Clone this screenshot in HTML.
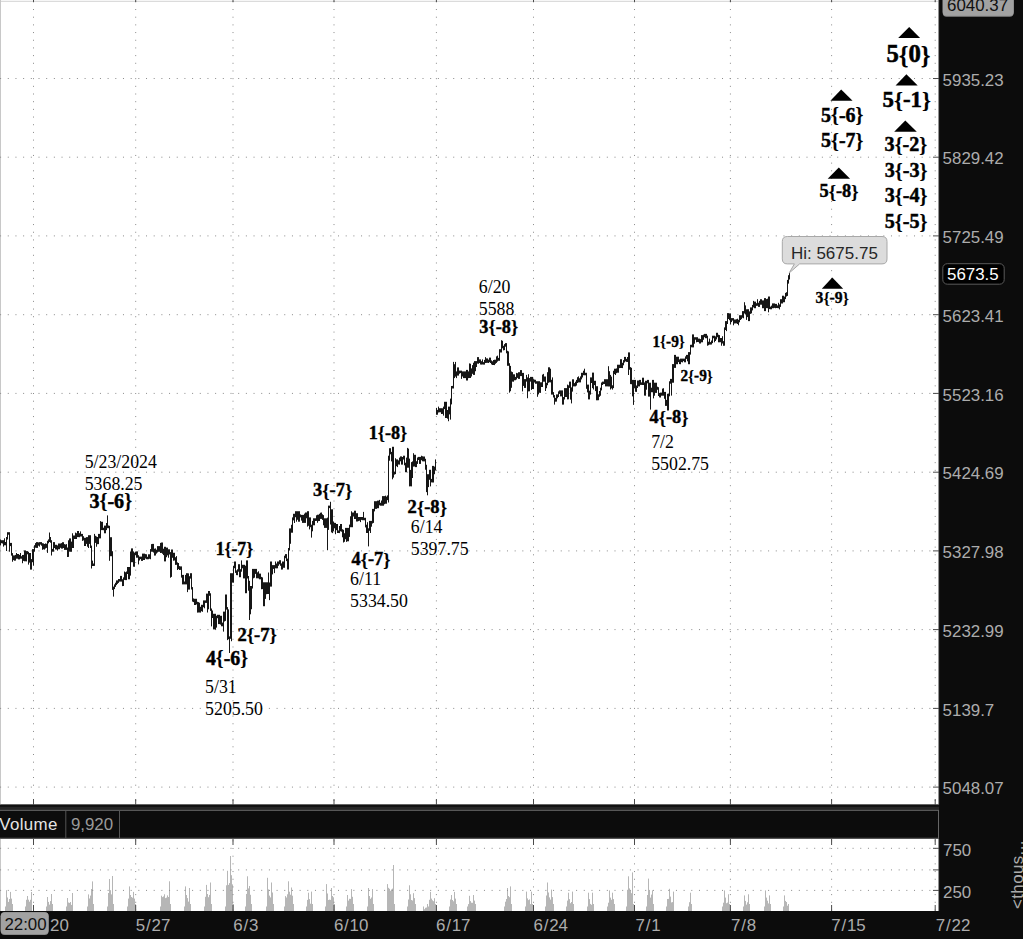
<!DOCTYPE html>
<html><head><meta charset="utf-8"><style>
html,body{margin:0;padding:0;background:#0c0c0c;}
body{width:1023px;height:939px;overflow:hidden;position:relative;}
svg{position:absolute;left:0;top:0;}
.ax{font-family:"Liberation Sans",sans-serif;font-size:16.9px;fill:#acacac;}
.an{font-family:"Liberation Serif",serif;fill:#000;}
.b{font-weight:bold;stroke:#000;stroke-width:0.5px;}
.br{stroke-width:0.15px;}
</style></head><body>
<svg width="1023" height="939" viewBox="0 0 1023 939">

<defs><filter id="bl" x="-5%" y="-5%" width="110%" height="110%"><feGaussianBlur stdDeviation="0.35"/></filter></defs>
<rect x="0" y="0" width="1023" height="939" fill="#0c0c0c"/>
<rect x="0" y="0" width="939" height="804.6" fill="#fff"/>
<rect x="0" y="839" width="939" height="72" fill="#fff"/>
<line x1="0" y1="1.3" x2="939" y2="1.3" stroke="#d2d2d2" stroke-width="1"/>
<line x1="0.5" y1="0" x2="0.5" y2="804.6" stroke="#c8c8c8" stroke-width="1"/>
<line x1="0.5" y1="839" x2="0.5" y2="911" stroke="#c8c8c8" stroke-width="1"/>
<line x1="938.6" y1="0" x2="938.6" y2="804.6" stroke="#888" stroke-width="1"/>
<line x1="938.6" y1="839" x2="938.6" y2="911" stroke="#888" stroke-width="1"/>
<g fill="#b6b6b6"><rect x="5" y="906.5" width="1" height="4.5"/><rect x="6" y="890.2" width="1" height="20.8"/><rect x="7" y="897.5" width="1" height="13.5"/><rect x="8" y="901.9" width="1" height="9.1"/><rect x="9" y="899" width="1" height="12"/><rect x="10" y="891.9" width="1" height="19.1"/><rect x="11" y="898.6" width="1" height="12.4"/><rect x="12" y="904" width="1" height="7"/><rect x="25" y="906.5" width="1" height="4.5"/><rect x="26" y="899.8" width="1" height="11.2"/><rect x="27" y="896" width="1" height="15"/><rect x="28" y="899.7" width="1" height="11.3"/><rect x="29" y="901.7" width="1" height="9.3"/><rect x="30" y="899.8" width="1" height="11.2"/><rect x="31" y="892" width="1" height="19"/><rect x="46" y="906.5" width="1" height="4.5"/><rect x="47" y="897" width="1" height="14"/><rect x="48" y="901.9" width="1" height="9.1"/><rect x="49" y="904.6" width="1" height="6.4"/><rect x="50" y="901.1" width="1" height="9.9"/><rect x="51" y="894" width="1" height="17"/><rect x="52" y="904" width="1" height="7"/><rect x="66" y="906.5" width="1" height="4.5"/><rect x="67" y="898" width="1" height="13"/><rect x="68" y="902.5" width="1" height="8.5"/><rect x="69" y="902.9" width="1" height="8.1"/><rect x="70" y="902" width="1" height="9"/><rect x="71" y="904.9" width="1" height="6.1"/><rect x="72" y="893" width="1" height="18"/><rect x="87" y="906.5" width="1" height="4.5"/><rect x="88" y="894.4" width="1" height="16.6"/><rect x="89" y="898.5" width="1" height="12.5"/><rect x="90" y="895.6" width="1" height="15.4"/><rect x="91" y="889" width="1" height="22"/><rect x="92" y="881.4" width="1" height="29.6"/><rect x="93" y="904" width="1" height="7"/><rect x="107" y="906.5" width="1" height="4.5"/><rect x="108" y="893" width="1" height="18"/><rect x="109" y="879" width="1" height="32"/><rect x="110" y="890.2" width="1" height="20.8"/><rect x="111" y="894.4" width="1" height="16.6"/><rect x="112" y="876" width="1" height="35"/><rect x="113" y="904" width="1" height="7"/><rect x="127" y="906.5" width="1" height="4.5"/><rect x="128" y="898.6" width="1" height="12.4"/><rect x="129" y="886.4" width="1" height="24.6"/><rect x="130" y="895" width="1" height="16"/><rect x="131" y="897" width="1" height="14"/><rect x="132" y="897.7" width="1" height="13.3"/><rect x="133" y="891.9" width="1" height="19.1"/><rect x="134" y="898.6" width="1" height="12.4"/><rect x="135" y="904" width="1" height="7"/><rect x="160" y="906.5" width="1" height="4.5"/><rect x="161" y="895.7" width="1" height="15.3"/><rect x="162" y="897.1" width="1" height="13.9"/><rect x="163" y="896.4" width="1" height="14.6"/><rect x="164" y="894.3" width="1" height="16.7"/><rect x="165" y="898.1" width="1" height="12.9"/><rect x="166" y="897.6" width="1" height="13.4"/><rect x="167" y="895.4" width="1" height="15.6"/><rect x="168" y="897" width="1" height="14"/><rect x="169" y="881.3" width="1" height="29.7"/><rect x="170" y="904" width="1" height="7"/><rect x="184" y="906.5" width="1" height="4.5"/><rect x="185" y="886.4" width="1" height="24.6"/><rect x="186" y="895" width="1" height="16"/><rect x="187" y="898.1" width="1" height="12.9"/><rect x="188" y="901.6" width="1" height="9.4"/><rect x="189" y="888" width="1" height="23"/><rect x="190" y="904" width="1" height="7"/><rect x="204" y="906.5" width="1" height="4.5"/><rect x="205" y="896.8" width="1" height="14.2"/><rect x="206" y="884.9" width="1" height="26.1"/><rect x="207" y="894" width="1" height="17"/><rect x="208" y="897.2" width="1" height="13.8"/><rect x="209" y="894.9" width="1" height="16.1"/><rect x="210" y="882.5" width="1" height="28.5"/><rect x="211" y="904" width="1" height="7"/><rect x="225" y="906.5" width="1" height="4.5"/><rect x="226" y="885.3" width="1" height="25.7"/><rect x="227" y="870.8" width="1" height="40.2"/><rect x="228" y="884.9" width="1" height="26.1"/><rect x="229" y="883.1" width="1" height="27.9"/><rect x="230" y="856" width="1" height="55"/><rect x="231" y="875.2" width="1" height="35.8"/><rect x="232" y="884.4" width="1" height="26.6"/><rect x="233" y="904" width="1" height="7"/><rect x="245" y="906.5" width="1" height="4.5"/><rect x="246" y="893.9" width="1" height="17.1"/><rect x="247" y="876.3" width="1" height="34.7"/><rect x="248" y="888.4" width="1" height="22.6"/><rect x="249" y="886" width="1" height="25"/><rect x="250" y="894.8" width="1" height="16.2"/><rect x="251" y="904" width="1" height="7"/><rect x="266" y="906.5" width="1" height="4.5"/><rect x="267" y="877.8" width="1" height="33.2"/><rect x="268" y="889.4" width="1" height="21.6"/><rect x="269" y="895.6" width="1" height="15.4"/><rect x="270" y="897.4" width="1" height="13.6"/><rect x="271" y="882.5" width="1" height="28.5"/><rect x="272" y="892.5" width="1" height="18.5"/><rect x="273" y="904" width="1" height="7"/><rect x="284" y="906.5" width="1" height="4.5"/><rect x="285" y="896.1" width="1" height="14.9"/><rect x="286" y="897.5" width="1" height="13.5"/><rect x="287" y="894.3" width="1" height="16.7"/><rect x="288" y="881.3" width="1" height="29.7"/><rect x="289" y="891.7" width="1" height="19.3"/><rect x="290" y="894.7" width="1" height="16.3"/><rect x="291" y="887.5" width="1" height="23.5"/><rect x="292" y="895.7" width="1" height="15.3"/><rect x="293" y="904" width="1" height="7"/><rect x="306" y="906.5" width="1" height="4.5"/><rect x="307" y="899.9" width="1" height="11.1"/><rect x="308" y="892.7" width="1" height="18.3"/><rect x="309" y="899.1" width="1" height="11.9"/><rect x="310" y="903.7" width="1" height="7.3"/><rect x="311" y="891.6" width="1" height="19.4"/><rect x="312" y="904" width="1" height="7"/><rect x="325" y="906.5" width="1" height="4.5"/><rect x="326" y="884.1" width="1" height="26.9"/><rect x="327" y="893.5" width="1" height="17.5"/><rect x="328" y="900" width="1" height="11"/><rect x="329" y="899.6" width="1" height="11.4"/><rect x="330" y="899.9" width="1" height="11.1"/><rect x="331" y="888" width="1" height="23"/><rect x="332" y="896" width="1" height="15"/><rect x="333" y="897.3" width="1" height="13.7"/><rect x="334" y="904" width="1" height="7"/><rect x="346" y="906.5" width="1" height="4.5"/><rect x="347" y="895" width="1" height="16"/><rect x="348" y="900.6" width="1" height="10.4"/><rect x="349" y="898.8" width="1" height="12.2"/><rect x="350" y="898.9" width="1" height="12.1"/><rect x="351" y="889.1" width="1" height="21.9"/><rect x="352" y="896.8" width="1" height="14.2"/><rect x="353" y="904" width="1" height="7"/><rect x="367" y="906.5" width="1" height="4.5"/><rect x="368" y="888" width="1" height="23"/><rect x="369" y="896" width="1" height="15"/><rect x="370" y="898.8" width="1" height="12.2"/><rect x="371" y="897.5" width="1" height="13.5"/><rect x="372" y="889.1" width="1" height="21.9"/><rect x="373" y="904" width="1" height="7"/><rect x="387" y="884.1" width="1" height="26.9"/><rect x="388" y="887.8" width="1" height="23.2"/><rect x="389" y="888.8" width="1" height="22.2"/><rect x="390" y="890.8" width="1" height="20.2"/><rect x="391" y="889.5" width="1" height="21.5"/><rect x="392" y="888.6" width="1" height="22.4"/><rect x="393" y="865" width="1" height="46"/><rect x="394" y="904" width="1" height="7"/><rect x="407" y="906.5" width="1" height="4.5"/><rect x="408" y="899.5" width="1" height="11.5"/><rect x="409" y="885.3" width="1" height="25.7"/><rect x="410" y="894.3" width="1" height="16.7"/><rect x="411" y="900" width="1" height="11"/><rect x="412" y="900.5" width="1" height="10.5"/><rect x="413" y="893.2" width="1" height="17.8"/><rect x="414" y="898.1" width="1" height="12.9"/><rect x="415" y="904" width="1" height="7"/><rect x="423" y="906.5" width="1" height="4.5"/><rect x="424" y="909.2" width="1" height="1.8"/><rect x="425" y="907.8" width="1" height="3.2"/><rect x="426" y="907.5" width="1" height="3.5"/><rect x="427" y="904" width="1" height="7"/><rect x="428" y="906.5" width="1" height="4.5"/><rect x="429" y="899.8" width="1" height="11.2"/><rect x="430" y="891.9" width="1" height="19.1"/><rect x="431" y="898.6" width="1" height="12.4"/><rect x="432" y="900.3" width="1" height="10.7"/><rect x="433" y="901.2" width="1" height="9.8"/><rect x="434" y="898.2" width="1" height="12.8"/><rect x="435" y="904" width="1" height="7"/><rect x="449" y="906.5" width="1" height="4.5"/><rect x="450" y="899.5" width="1" height="11.5"/><rect x="451" y="895" width="1" height="16"/><rect x="452" y="900" width="1" height="11"/><rect x="453" y="901.3" width="1" height="9.7"/><rect x="454" y="891.9" width="1" height="19.1"/><rect x="455" y="898.6" width="1" height="12.4"/><rect x="456" y="904" width="1" height="7"/><rect x="467" y="906.5" width="1" height="4.5"/><rect x="468" y="904.1" width="1" height="6.9"/><rect x="469" y="895.8" width="1" height="15.2"/><rect x="470" y="901.1" width="1" height="9.9"/><rect x="471" y="902.7" width="1" height="8.3"/><rect x="472" y="902.8" width="1" height="8.2"/><rect x="473" y="895" width="1" height="16"/><rect x="474" y="900.6" width="1" height="10.4"/><rect x="475" y="904" width="1" height="7"/><rect x="504" y="906.5" width="1" height="4.5"/><rect x="505" y="901.7" width="1" height="9.3"/><rect x="506" y="899" width="1" height="12"/><rect x="507" y="888" width="1" height="23"/><rect x="508" y="896" width="1" height="15"/><rect x="509" y="897.2" width="1" height="13.8"/><rect x="510" y="886.4" width="1" height="24.6"/><rect x="511" y="904" width="1" height="7"/><rect x="525" y="906.5" width="1" height="4.5"/><rect x="526" y="891.6" width="1" height="19.4"/><rect x="527" y="898.4" width="1" height="12.6"/><rect x="528" y="900.1" width="1" height="10.9"/><rect x="529" y="899.4" width="1" height="11.6"/><rect x="530" y="904.1" width="1" height="6.9"/><rect x="531" y="891.6" width="1" height="19.4"/><rect x="532" y="904" width="1" height="7"/><rect x="545" y="906.5" width="1" height="4.5"/><rect x="546" y="895.5" width="1" height="15.5"/><rect x="547" y="882.5" width="1" height="28.5"/><rect x="548" y="892.5" width="1" height="18.5"/><rect x="549" y="897.4" width="1" height="13.6"/><rect x="550" y="899.6" width="1" height="11.4"/><rect x="551" y="889.6" width="1" height="21.4"/><rect x="552" y="897.1" width="1" height="13.9"/><rect x="553" y="904" width="1" height="7"/><rect x="566" y="906.5" width="1" height="4.5"/><rect x="567" y="900.6" width="1" height="10.4"/><rect x="568" y="892.7" width="1" height="18.3"/><rect x="569" y="899.1" width="1" height="11.9"/><rect x="570" y="903.2" width="1" height="7.8"/><rect x="571" y="902" width="1" height="9"/><rect x="572" y="891.6" width="1" height="19.4"/><rect x="573" y="904" width="1" height="7"/><rect x="587" y="906.5" width="1" height="4.5"/><rect x="588" y="892.7" width="1" height="18.3"/><rect x="589" y="899.1" width="1" height="11.9"/><rect x="590" y="903.9" width="1" height="7.1"/><rect x="591" y="904.8" width="1" height="6.2"/><rect x="592" y="892.7" width="1" height="18.3"/><rect x="593" y="904" width="1" height="7"/><rect x="607" y="906.5" width="1" height="4.5"/><rect x="608" y="902.7" width="1" height="8.3"/><rect x="609" y="890.4" width="1" height="20.6"/><rect x="610" y="897.6" width="1" height="13.4"/><rect x="611" y="899.8" width="1" height="11.2"/><rect x="612" y="892.7" width="1" height="18.3"/><rect x="613" y="899.1" width="1" height="11.9"/><rect x="614" y="904" width="1" height="7"/><rect x="626" y="906.5" width="1" height="4.5"/><rect x="627" y="889.8" width="1" height="21.2"/><rect x="628" y="876.3" width="1" height="34.7"/><rect x="629" y="888.4" width="1" height="22.6"/><rect x="630" y="891" width="1" height="20"/><rect x="631" y="893.2" width="1" height="17.8"/><rect x="632" y="872.4" width="1" height="38.6"/><rect x="633" y="904" width="1" height="7"/><rect x="646" y="906.5" width="1" height="4.5"/><rect x="647" y="895" width="1" height="16"/><rect x="648" y="878.6" width="1" height="32.4"/><rect x="649" y="889.9" width="1" height="21.1"/><rect x="650" y="897.6" width="1" height="13.4"/><rect x="651" y="894.6" width="1" height="16.4"/><rect x="652" y="890.4" width="1" height="20.6"/><rect x="653" y="904" width="1" height="7"/><rect x="666" y="906.5" width="1" height="4.5"/><rect x="667" y="899" width="1" height="12"/><rect x="668" y="898.9" width="1" height="12.1"/><rect x="669" y="888.8" width="1" height="22.2"/><rect x="670" y="896.6" width="1" height="14.4"/><rect x="671" y="902.4" width="1" height="8.6"/><rect x="672" y="902.1" width="1" height="8.9"/><rect x="673" y="891.6" width="1" height="19.4"/><rect x="688" y="906.5" width="1" height="4.5"/><rect x="689" y="902.2" width="1" height="8.8"/><rect x="690" y="892.7" width="1" height="18.3"/><rect x="691" y="904" width="1" height="7"/><rect x="722" y="906.5" width="1" height="4.5"/><rect x="723" y="902.7" width="1" height="8.3"/><rect x="724" y="890.4" width="1" height="20.6"/><rect x="725" y="897.6" width="1" height="13.4"/><rect x="726" y="903.2" width="1" height="7.8"/><rect x="727" y="902.6" width="1" height="8.4"/><rect x="728" y="894.3" width="1" height="16.7"/><rect x="729" y="904" width="1" height="7"/><rect x="743" y="906.5" width="1" height="4.5"/><rect x="744" y="895.4" width="1" height="15.6"/><rect x="745" y="900.9" width="1" height="10.1"/><rect x="746" y="904.6" width="1" height="6.4"/><rect x="747" y="902.3" width="1" height="8.7"/><rect x="748" y="894.3" width="1" height="16.7"/><rect x="749" y="904" width="1" height="7"/><rect x="764" y="906.5" width="1" height="4.5"/><rect x="765" y="890.4" width="1" height="20.6"/><rect x="766" y="897.6" width="1" height="13.4"/><rect x="767" y="900.7" width="1" height="10.3"/><rect x="768" y="903.4" width="1" height="7.6"/><rect x="769" y="895.4" width="1" height="15.6"/><rect x="770" y="904" width="1" height="7"/><rect x="783" y="906.5" width="1" height="4.5"/><rect x="784" y="895.4" width="1" height="15.6"/><rect x="785" y="900.9" width="1" height="10.1"/><rect x="786" y="902" width="1" height="9"/><rect x="787" y="905.7" width="1" height="5.3"/><rect x="788" y="904" width="1" height="7"/></g>
<g stroke="#8a8a8a" stroke-width="1" stroke-dasharray="1 6.68" stroke-dashoffset="-7.78"><line x1="0" y1="78.5" x2="932" y2="78.5"/><line x1="0" y1="157.2" x2="932" y2="157.2"/><line x1="0" y1="235.9" x2="932" y2="235.9"/><line x1="0" y1="314.7" x2="932" y2="314.7"/><line x1="0" y1="393.4" x2="932" y2="393.4"/><line x1="0" y1="472.2" x2="932" y2="472.2"/><line x1="0" y1="550.9" x2="932" y2="550.9"/><line x1="0" y1="629.6" x2="932" y2="629.6"/><line x1="0" y1="708.4" x2="932" y2="708.4"/><line x1="0" y1="787.1" x2="932" y2="787.1"/><line x1="0" y1="848.3" x2="932" y2="848.3"/><line x1="0" y1="869.9" x2="932" y2="869.9"/><line x1="0" y1="890.4" x2="932" y2="890.4"/></g>
<g stroke="#8a8a8a" stroke-width="1" stroke-dasharray="1 6.68" stroke-dashoffset="-1.35"><line x1="33.5" y1="0" x2="33.5" y2="804.6"/><line x1="33.5" y1="839" x2="33.5" y2="911"/><line x1="135.7" y1="0" x2="135.7" y2="804.6"/><line x1="135.7" y1="839" x2="135.7" y2="911"/><line x1="233" y1="0" x2="233" y2="804.6"/><line x1="233" y1="839" x2="233" y2="911"/><line x1="334" y1="0" x2="334" y2="804.6"/><line x1="334" y1="839" x2="334" y2="911"/><line x1="436.4" y1="0" x2="436.4" y2="804.6"/><line x1="436.4" y1="839" x2="436.4" y2="911"/><line x1="533.5" y1="0" x2="533.5" y2="804.6"/><line x1="533.5" y1="839" x2="533.5" y2="911"/><line x1="634.5" y1="0" x2="634.5" y2="804.6"/><line x1="634.5" y1="839" x2="634.5" y2="911"/><line x1="730.4" y1="0" x2="730.4" y2="804.6"/><line x1="730.4" y1="839" x2="730.4" y2="911"/><line x1="831.6" y1="0" x2="831.6" y2="804.6"/><line x1="831.6" y1="839" x2="831.6" y2="911"/><line x1="935.2" y1="0" x2="935.2" y2="804.6"/><line x1="935.2" y1="839" x2="935.2" y2="911"/></g>
<g stroke="#4a4a4a" stroke-width="1"><line x1="33.5" y1="0" x2="33.5" y2="2"/><line x1="33.5" y1="799" x2="33.5" y2="804.6"/><line x1="33.5" y1="839" x2="33.5" y2="845"/><line x1="33.5" y1="905" x2="33.5" y2="911"/><line x1="135.7" y1="0" x2="135.7" y2="2"/><line x1="135.7" y1="799" x2="135.7" y2="804.6"/><line x1="135.7" y1="839" x2="135.7" y2="845"/><line x1="135.7" y1="905" x2="135.7" y2="911"/><line x1="233" y1="0" x2="233" y2="2"/><line x1="233" y1="799" x2="233" y2="804.6"/><line x1="233" y1="839" x2="233" y2="845"/><line x1="233" y1="905" x2="233" y2="911"/><line x1="334" y1="0" x2="334" y2="2"/><line x1="334" y1="799" x2="334" y2="804.6"/><line x1="334" y1="839" x2="334" y2="845"/><line x1="334" y1="905" x2="334" y2="911"/><line x1="436.4" y1="0" x2="436.4" y2="2"/><line x1="436.4" y1="799" x2="436.4" y2="804.6"/><line x1="436.4" y1="839" x2="436.4" y2="845"/><line x1="436.4" y1="905" x2="436.4" y2="911"/><line x1="533.5" y1="0" x2="533.5" y2="2"/><line x1="533.5" y1="799" x2="533.5" y2="804.6"/><line x1="533.5" y1="839" x2="533.5" y2="845"/><line x1="533.5" y1="905" x2="533.5" y2="911"/><line x1="634.5" y1="0" x2="634.5" y2="2"/><line x1="634.5" y1="799" x2="634.5" y2="804.6"/><line x1="634.5" y1="839" x2="634.5" y2="845"/><line x1="634.5" y1="905" x2="634.5" y2="911"/><line x1="730.4" y1="0" x2="730.4" y2="2"/><line x1="730.4" y1="799" x2="730.4" y2="804.6"/><line x1="730.4" y1="839" x2="730.4" y2="845"/><line x1="730.4" y1="905" x2="730.4" y2="911"/><line x1="831.6" y1="0" x2="831.6" y2="2"/><line x1="831.6" y1="799" x2="831.6" y2="804.6"/><line x1="831.6" y1="839" x2="831.6" y2="845"/><line x1="831.6" y1="905" x2="831.6" y2="911"/><line x1="935.2" y1="0" x2="935.2" y2="2"/><line x1="935.2" y1="799" x2="935.2" y2="804.6"/><line x1="935.2" y1="839" x2="935.2" y2="845"/><line x1="935.2" y1="905" x2="935.2" y2="911"/><line x1="933" y1="78.5" x2="939" y2="78.5"/><line x1="933" y1="157.2" x2="939" y2="157.2"/><line x1="933" y1="235.9" x2="939" y2="235.9"/><line x1="933" y1="314.7" x2="939" y2="314.7"/><line x1="933" y1="393.4" x2="939" y2="393.4"/><line x1="933" y1="472.2" x2="939" y2="472.2"/><line x1="933" y1="550.9" x2="939" y2="550.9"/><line x1="933" y1="629.6" x2="939" y2="629.6"/><line x1="933" y1="708.4" x2="939" y2="708.4"/><line x1="933" y1="787.1" x2="939" y2="787.1"/><line x1="933" y1="848.3" x2="939" y2="848.3"/><line x1="933" y1="869.9" x2="939" y2="869.9"/><line x1="933" y1="890.4" x2="939" y2="890.4"/></g>
<g fill="#161616" filter="url(#bl)"><rect x="0" y="539.5" width="1" height="5.9"/><rect x="1" y="540.2" width="1" height="3"/><rect x="2" y="540.2" width="1" height="3.3"/><rect x="3" y="540.2" width="1" height="6.4"/><rect x="4" y="538.3" width="1" height="7"/><rect x="5" y="542" width="1" height="3.3"/><rect x="6" y="537" width="1" height="14"/><rect x="7" y="532.2" width="1" height="7.3"/><rect x="8" y="532.2" width="1" height="2.5"/><rect x="9" y="532.2" width="1" height="19.5"/><rect x="10" y="542.9" width="1" height="3.2"/><rect x="11" y="542.9" width="1" height="12.7"/><rect x="12" y="553.1" width="1" height="8.6"/><rect x="13" y="555.4" width="1" height="4.7"/><rect x="14" y="555.4" width="1" height="5.3"/><rect x="15" y="554.9" width="1" height="5.7"/><rect x="16" y="553" width="1" height="5.7"/><rect x="17" y="554" width="1" height="4.7"/><rect x="18" y="554" width="1" height="5.4"/><rect x="19" y="554.9" width="1" height="4.5"/><rect x="20" y="553" width="1" height="5.7"/><rect x="21" y="556.2" width="1" height="2.5"/><rect x="22" y="555" width="1" height="8.2"/><rect x="23" y="554.9" width="1" height="6"/><rect x="24" y="550.4" width="1" height="10.9"/><rect x="25" y="550.4" width="1" height="10.9"/><rect x="26" y="551.1" width="1" height="10.3"/><rect x="27" y="551.1" width="1" height="3.2"/><rect x="28" y="551.8" width="1" height="12.8"/><rect x="29" y="553" width="1" height="9.6"/><rect x="30" y="553" width="1" height="16.6"/><rect x="31" y="559.1" width="1" height="10.5"/><rect x="32" y="549.1" width="1" height="13.1"/><rect x="33" y="549.1" width="1" height="16.6"/><rect x="34" y="545.2" width="1" height="6.5"/><rect x="35" y="543.1" width="1" height="4.6"/><rect x="36" y="542.1" width="1" height="5.8"/><rect x="37" y="542.1" width="1" height="5.8"/><rect x="38" y="542.4" width="1" height="3.3"/><rect x="39" y="542.1" width="1" height="4.5"/><rect x="40" y="542.1" width="1" height="2.5"/><rect x="41" y="542.1" width="1" height="3.6"/><rect x="42" y="543.2" width="1" height="6.6"/><rect x="43" y="543.4" width="1" height="5.9"/><rect x="44" y="544" width="1" height="5.6"/><rect x="45" y="543.4" width="1" height="5.1"/><rect x="46" y="543.8" width="1" height="4.1"/><rect x="47" y="540.8" width="1" height="12.1"/><rect x="48" y="539.4" width="1" height="3.9"/><rect x="49" y="532.5" width="1" height="9.5"/><rect x="50" y="537" width="1" height="5.7"/><rect x="51" y="540.2" width="1" height="15.3"/><rect x="52" y="548.9" width="1" height="2.8"/><rect x="53" y="542.1" width="1" height="9.6"/><rect x="54" y="542.1" width="1" height="5.9"/><rect x="55" y="544.8" width="1" height="4.7"/><rect x="56" y="544.8" width="1" height="4.7"/><rect x="57" y="545.4" width="1" height="5.2"/><rect x="58" y="543.5" width="1" height="5.7"/><rect x="59" y="543.5" width="1" height="5.7"/><rect x="60" y="543.5" width="1" height="4.3"/><rect x="61" y="543.1" width="1" height="5.5"/><rect x="62" y="542.2" width="1" height="6.4"/><rect x="63" y="542.2" width="1" height="5.8"/><rect x="64" y="544.1" width="1" height="5.8"/><rect x="65" y="544.5" width="1" height="5.4"/><rect x="66" y="544.1" width="1" height="5.8"/><rect x="67" y="547.5" width="1" height="9.5"/><rect x="68" y="540.3" width="1" height="16.6"/><rect x="69" y="538.4" width="1" height="13.2"/><rect x="70" y="538.4" width="1" height="13.4"/><rect x="71" y="541.6" width="1" height="10.2"/><rect x="72" y="533.3" width="1" height="14.7"/><rect x="73" y="535.5" width="1" height="12.5"/><rect x="74" y="535.5" width="1" height="3.5"/><rect x="75" y="532.6" width="1" height="6.4"/><rect x="76" y="533.2" width="1" height="5.8"/><rect x="77" y="531" width="1" height="6.1"/><rect x="78" y="531" width="1" height="6.1"/><rect x="79" y="533.2" width="1" height="4"/><rect x="80" y="531.4" width="1" height="5.1"/><rect x="81" y="533.9" width="1" height="2.6"/><rect x="82" y="533.9" width="1" height="7"/><rect x="83" y="536.2" width="1" height="4.2"/><rect x="84" y="537.8" width="1" height="8.2"/><rect x="85" y="537.8" width="1" height="8.2"/><rect x="86" y="537.1" width="1" height="6.8"/><rect x="87" y="537.1" width="1" height="9.6"/><rect x="88" y="535.2" width="1" height="12.8"/><rect x="89" y="535.2" width="1" height="8.7"/><rect x="90" y="535.2" width="1" height="12.8"/><rect x="91" y="545.6" width="1" height="22.9"/><rect x="92" y="560.6" width="1" height="5.4"/><rect x="93" y="563.5" width="1" height="2.5"/><rect x="94" y="533.9" width="1" height="32"/><rect x="95" y="535.8" width="1" height="7.1"/><rect x="96" y="536.5" width="1" height="10.2"/><rect x="97" y="537" width="1" height="7.2"/><rect x="98" y="533.9" width="1" height="10.2"/><rect x="99" y="533.9" width="1" height="4.5"/><rect x="100" y="521.1" width="1" height="17.3"/><rect x="101" y="521.8" width="1" height="8.3"/><rect x="102" y="521.8" width="1" height="8.3"/><rect x="103" y="527.7" width="1" height="2.5"/><rect x="104" y="525.6" width="1" height="7.7"/><rect x="105" y="525.6" width="1" height="7.7"/><rect x="106" y="523" width="1" height="7.1"/><rect x="107" y="515.4" width="1" height="12.8"/><rect x="108" y="525.5" width="1" height="2.7"/><rect x="109" y="525.8" width="1" height="35"/><rect x="110" y="537.2" width="1" height="19"/><rect x="111" y="537.2" width="1" height="19"/><rect x="112" y="551.2" width="1" height="38.7"/><rect x="113" y="586.6" width="1" height="10"/><rect x="114" y="584.4" width="1" height="4.7"/><rect x="115" y="582.7" width="1" height="4.2"/><rect x="116" y="580.4" width="1" height="4.7"/><rect x="117" y="580.4" width="1" height="3.5"/><rect x="118" y="579" width="1" height="3.9"/><rect x="119" y="579" width="1" height="2.6"/><rect x="120" y="575.9" width="1" height="5.7"/><rect x="121" y="575.9" width="1" height="5.7"/><rect x="122" y="579.2" width="1" height="6.9"/><rect x="123" y="577.4" width="1" height="8.6"/><rect x="124" y="571.5" width="1" height="8.4"/><rect x="125" y="572.2" width="1" height="7.9"/><rect x="126" y="571.5" width="1" height="8.6"/><rect x="127" y="567" width="1" height="7"/><rect x="128" y="567" width="1" height="12.3"/><rect x="129" y="567" width="1" height="12.3"/><rect x="130" y="551.5" width="1" height="24.1"/><rect x="131" y="548.4" width="1" height="13.8"/><rect x="132" y="548.4" width="1" height="13.8"/><rect x="133" y="551.4" width="1" height="15.3"/><rect x="134" y="552.6" width="1" height="14.2"/><rect x="135" y="551.6" width="1" height="3.5"/><rect x="136" y="551.4" width="1" height="6.3"/><rect x="137" y="551.4" width="1" height="6.3"/><rect x="138" y="555.2" width="1" height="9.2"/><rect x="139" y="556.6" width="1" height="3.9"/><rect x="140" y="556.6" width="1" height="2.5"/><rect x="141" y="556.6" width="1" height="4.3"/><rect x="142" y="553.6" width="1" height="7.3"/><rect x="143" y="553.6" width="1" height="6.4"/><rect x="144" y="553.6" width="1" height="6.4"/><rect x="145" y="554.1" width="1" height="4.4"/><rect x="146" y="554.3" width="1" height="4.9"/><rect x="147" y="556.8" width="1" height="2.5"/><rect x="148" y="554.3" width="1" height="4.9"/><rect x="149" y="554.3" width="1" height="4.5"/><rect x="150" y="549.1" width="1" height="10.1"/><rect x="151" y="544.1" width="1" height="7.6"/><rect x="152" y="543.9" width="1" height="7.9"/><rect x="153" y="543.9" width="1" height="8.6"/><rect x="154" y="548.7" width="1" height="6.9"/><rect x="155" y="548.4" width="1" height="7.1"/><rect x="156" y="549.7" width="1" height="3.9"/><rect x="157" y="546.1" width="1" height="6.4"/><rect x="158" y="546.1" width="1" height="5.7"/><rect x="159" y="546.1" width="1" height="5.7"/><rect x="160" y="542.9" width="1" height="10.1"/><rect x="161" y="542.5" width="1" height="10.4"/><rect x="162" y="542.5" width="1" height="11.3"/><rect x="163" y="548.7" width="1" height="6.4"/><rect x="164" y="546.8" width="1" height="14.6"/><rect x="165" y="546.8" width="1" height="14.6"/><rect x="166" y="547.6" width="1" height="9.6"/><rect x="167" y="547.6" width="1" height="7.8"/><rect x="168" y="549.3" width="1" height="8.4"/><rect x="169" y="549.3" width="1" height="5.2"/><rect x="170" y="552.1" width="1" height="25.6"/><rect x="171" y="549.5" width="1" height="27.4"/><rect x="172" y="549.5" width="1" height="8.3"/><rect x="173" y="552.8" width="1" height="7.9"/><rect x="174" y="552.8" width="1" height="7.7"/><rect x="175" y="557.2" width="1" height="7.7"/><rect x="176" y="556.1" width="1" height="8.7"/><rect x="177" y="562.4" width="1" height="7.6"/><rect x="178" y="563" width="1" height="6.1"/><rect x="179" y="566.1" width="1" height="3.9"/><rect x="180" y="566.4" width="1" height="3.5"/><rect x="181" y="566.4" width="1" height="11.2"/><rect x="182" y="574.9" width="1" height="9.5"/><rect x="183" y="574.9" width="1" height="9.5"/><rect x="184" y="581.5" width="1" height="2.9"/><rect x="185" y="574.9" width="1" height="9.5"/><rect x="186" y="573.2" width="1" height="11.2"/><rect x="187" y="573.2" width="1" height="18.9"/><rect x="188" y="573.4" width="1" height="16.2"/><rect x="189" y="576.2" width="1" height="13.4"/><rect x="190" y="573.2" width="1" height="5.4"/><rect x="191" y="573.2" width="1" height="16.3"/><rect x="192" y="587.1" width="1" height="14.5"/><rect x="193" y="598.4" width="1" height="3.7"/><rect x="194" y="598.8" width="1" height="6.2"/><rect x="195" y="598.8" width="1" height="6.2"/><rect x="196" y="598.8" width="1" height="5.6"/><rect x="197" y="601.8" width="1" height="10.8"/><rect x="198" y="602.1" width="1" height="10.4"/><rect x="199" y="602.7" width="1" height="9.8"/><rect x="200" y="606.8" width="1" height="5.8"/><rect x="201" y="604.8" width="1" height="6.4"/><rect x="202" y="604.8" width="1" height="7"/><rect x="203" y="600.4" width="1" height="6.8"/><rect x="204" y="600.4" width="1" height="7.9"/><rect x="205" y="600.4" width="1" height="2.5"/><rect x="206" y="593.6" width="1" height="9.3"/><rect x="207" y="593.6" width="1" height="18.9"/><rect x="208" y="591" width="1" height="18.3"/><rect x="209" y="591" width="1" height="4.8"/><rect x="210" y="593.3" width="1" height="17.6"/><rect x="211" y="608.5" width="1" height="17.9"/><rect x="212" y="610.5" width="1" height="7.5"/><rect x="213" y="613.8" width="1" height="15.6"/><rect x="214" y="613.8" width="1" height="15.6"/><rect x="215" y="613.8" width="1" height="15.8"/><rect x="216" y="615.7" width="1" height="11.9"/><rect x="217" y="614.8" width="1" height="3.4"/><rect x="218" y="614.8" width="1" height="9.3"/><rect x="219" y="614.8" width="1" height="9.3"/><rect x="220" y="615.8" width="1" height="8.8"/><rect x="221" y="615.8" width="1" height="10.5"/><rect x="222" y="622.6" width="1" height="3.7"/><rect x="223" y="611.6" width="1" height="20"/><rect x="224" y="611.6" width="1" height="9.9"/><rect x="225" y="594.5" width="1" height="26.4"/><rect x="226" y="594.5" width="1" height="15.1"/><rect x="227" y="607.1" width="1" height="33"/><rect x="228" y="609.4" width="1" height="29.8"/><rect x="229" y="636.4" width="1" height="16.6"/><rect x="230" y="573.2" width="1" height="65.6"/><rect x="231" y="573.2" width="1" height="68"/><rect x="232" y="573.2" width="1" height="9.4"/><rect x="233" y="565.8" width="1" height="16.9"/><rect x="234" y="561.5" width="1" height="6.7"/><rect x="235" y="561.5" width="1" height="11.4"/><rect x="236" y="570.4" width="1" height="4.7"/><rect x="237" y="569.3" width="1" height="5.9"/><rect x="238" y="564.2" width="1" height="7.5"/><rect x="239" y="564.2" width="1" height="13"/><rect x="240" y="569.2" width="1" height="8"/><rect x="241" y="560.4" width="1" height="11.3"/><rect x="242" y="564.8" width="1" height="3.5"/><rect x="243" y="564.8" width="1" height="13.6"/><rect x="244" y="564.8" width="1" height="13.6"/><rect x="245" y="565.7" width="1" height="27.5"/><rect x="246" y="560.4" width="1" height="32.8"/><rect x="247" y="560.4" width="1" height="18.1"/><rect x="248" y="576" width="1" height="14.7"/><rect x="249" y="580.8" width="1" height="39.2"/><rect x="250" y="586" width="1" height="28.3"/><rect x="251" y="586" width="1" height="23.2"/><rect x="252" y="568.9" width="1" height="19.6"/><rect x="253" y="568.9" width="1" height="9.4"/><rect x="254" y="568.9" width="1" height="8.8"/><rect x="255" y="568.9" width="1" height="5"/><rect x="256" y="568.9" width="1" height="9.4"/><rect x="257" y="572.3" width="1" height="6"/><rect x="258" y="571.3" width="1" height="7.1"/><rect x="259" y="573.6" width="1" height="5.7"/><rect x="260" y="573.6" width="1" height="5.7"/><rect x="261" y="576.9" width="1" height="12.3"/><rect x="262" y="577.4" width="1" height="11.7"/><rect x="263" y="582.3" width="1" height="23.9"/><rect x="264" y="582.3" width="1" height="23.9"/><rect x="265" y="582.3" width="1" height="16.6"/><rect x="266" y="582.3" width="1" height="11.9"/><rect x="267" y="582.3" width="1" height="11.7"/><rect x="268" y="572.5" width="1" height="21.5"/><rect x="269" y="582.5" width="1" height="17.6"/><rect x="270" y="561.5" width="1" height="25.1"/><rect x="271" y="561.5" width="1" height="25.1"/><rect x="272" y="565.1" width="1" height="9.3"/><rect x="273" y="565.1" width="1" height="3.8"/><rect x="274" y="565.1" width="1" height="8"/><rect x="275" y="561.5" width="1" height="6.8"/><rect x="276" y="563.5" width="1" height="4.9"/><rect x="277" y="561.5" width="1" height="6.8"/><rect x="278" y="561.5" width="1" height="4.3"/><rect x="279" y="560.2" width="1" height="4.1"/><rect x="280" y="560.2" width="1" height="5.6"/><rect x="281" y="563.4" width="1" height="6.2"/><rect x="282" y="561.5" width="1" height="8"/><rect x="283" y="561.5" width="1" height="6.3"/><rect x="284" y="555.7" width="1" height="12.1"/><rect x="285" y="554.1" width="1" height="4.1"/><rect x="286" y="554.1" width="1" height="7"/><rect x="287" y="558.6" width="1" height="10.9"/><rect x="288" y="548" width="1" height="21.5"/><rect x="289" y="528.4" width="1" height="22.1"/><rect x="290" y="528.4" width="1" height="15.4"/><rect x="291" y="524.8" width="1" height="7.9"/><rect x="292" y="517.4" width="1" height="15.3"/><rect x="293" y="513.8" width="1" height="6.6"/><rect x="294" y="513.8" width="1" height="9.2"/><rect x="295" y="511.2" width="1" height="6"/><rect x="296" y="511.2" width="1" height="10.5"/><rect x="297" y="511.2" width="1" height="8.6"/><rect x="298" y="511.2" width="1" height="10.5"/><rect x="299" y="511.2" width="1" height="10.5"/><rect x="300" y="514.4" width="1" height="3"/><rect x="301" y="514.9" width="1" height="5.7"/><rect x="302" y="514.9" width="1" height="8"/><rect x="303" y="514.9" width="1" height="8"/><rect x="304" y="513.6" width="1" height="9.3"/><rect x="305" y="512.5" width="1" height="10.4"/><rect x="306" y="512.5" width="1" height="5.8"/><rect x="307" y="511.2" width="1" height="15.4"/><rect x="308" y="511.2" width="1" height="14.6"/><rect x="309" y="517.4" width="1" height="12"/><rect x="310" y="517.4" width="1" height="9.8"/><rect x="311" y="524.7" width="1" height="12.9"/><rect x="312" y="520.9" width="1" height="10.4"/><rect x="313" y="518.3" width="1" height="7"/><rect x="314" y="518.3" width="1" height="7"/><rect x="315" y="518.3" width="1" height="2.7"/><rect x="316" y="515.3" width="1" height="5.6"/><rect x="317" y="514.7" width="1" height="8.1"/><rect x="318" y="514.7" width="1" height="6.4"/><rect x="319" y="513.8" width="1" height="7.2"/><rect x="320" y="512.7" width="1" height="6.2"/><rect x="321" y="512.5" width="1" height="6.4"/><rect x="322" y="514.3" width="1" height="5.6"/><rect x="323" y="515.1" width="1" height="10.2"/><rect x="324" y="518.3" width="1" height="9.6"/><rect x="325" y="518.3" width="1" height="9.6"/><rect x="326" y="518.3" width="1" height="9.6"/><rect x="327" y="517.6" width="1" height="32.6"/><rect x="328" y="505.6" width="1" height="24.3"/><rect x="329" y="505.6" width="1" height="2.5"/><rect x="330" y="501.8" width="1" height="22.7"/><rect x="331" y="509.3" width="1" height="23.1"/><rect x="332" y="509.3" width="1" height="23.8"/><rect x="333" y="521.5" width="1" height="9.7"/><rect x="334" y="522.8" width="1" height="5.5"/><rect x="335" y="522.9" width="1" height="11.3"/><rect x="336" y="524" width="1" height="6.2"/><rect x="337" y="524" width="1" height="9"/><rect x="338" y="530.4" width="1" height="2.6"/><rect x="339" y="526" width="1" height="7.1"/><rect x="340" y="524" width="1" height="7.3"/><rect x="341" y="524" width="1" height="7.7"/><rect x="342" y="529.2" width="1" height="8.1"/><rect x="343" y="529.8" width="1" height="12.7"/><rect x="344" y="533.2" width="1" height="8.6"/><rect x="345" y="527.9" width="1" height="11.3"/><rect x="346" y="527.9" width="1" height="14"/><rect x="347" y="527.9" width="1" height="13.4"/><rect x="348" y="527.9" width="1" height="13.4"/><rect x="349" y="524.6" width="1" height="12.3"/><rect x="350" y="516.3" width="1" height="10.9"/><rect x="351" y="511.3" width="1" height="15.9"/><rect x="352" y="512.5" width="1" height="14.7"/><rect x="353" y="512.5" width="1" height="4"/><rect x="354" y="510.7" width="1" height="8.3"/><rect x="355" y="510.7" width="1" height="8.3"/><rect x="356" y="513.2" width="1" height="8.3"/><rect x="357" y="513.2" width="1" height="8.3"/><rect x="358" y="517" width="1" height="4.1"/><rect x="359" y="517" width="1" height="3.7"/><rect x="360" y="517" width="1" height="5.1"/><rect x="361" y="517" width="1" height="2.9"/><rect x="362" y="517" width="1" height="3.2"/><rect x="363" y="511.9" width="1" height="8.3"/><rect x="364" y="517.8" width="1" height="2.5"/><rect x="365" y="517.8" width="1" height="9.6"/><rect x="366" y="524.7" width="1" height="8.3"/><rect x="367" y="522.2" width="1" height="10.8"/><rect x="368" y="528.3" width="1" height="18.1"/><rect x="369" y="520.9" width="1" height="9.9"/><rect x="370" y="520.9" width="1" height="12.1"/><rect x="371" y="520.9" width="1" height="5.8"/><rect x="372" y="508.9" width="1" height="14.6"/><rect x="373" y="508.9" width="1" height="14"/><rect x="374" y="501.2" width="1" height="10.2"/><rect x="375" y="501.2" width="1" height="7.7"/><rect x="376" y="501.2" width="1" height="7.7"/><rect x="377" y="500.6" width="1" height="7.6"/><rect x="378" y="500.6" width="1" height="7.6"/><rect x="379" y="499.9" width="1" height="5.4"/><rect x="380" y="502.8" width="1" height="2.9"/><rect x="381" y="500.5" width="1" height="5.2"/><rect x="382" y="496.1" width="1" height="9.6"/><rect x="383" y="496.1" width="1" height="9.6"/><rect x="384" y="496.1" width="1" height="8.1"/><rect x="385" y="495.6" width="1" height="8.1"/><rect x="386" y="496.6" width="1" height="7.1"/><rect x="387" y="495.4" width="1" height="4.7"/><rect x="388" y="455.7" width="1" height="46.8"/><rect x="389" y="448.2" width="1" height="12.5"/><rect x="390" y="448.2" width="1" height="6.1"/><rect x="391" y="451.9" width="1" height="9.5"/><rect x="392" y="446.8" width="1" height="32.5"/><rect x="393" y="446.8" width="1" height="30.8"/><rect x="394" y="471.6" width="1" height="3"/><rect x="395" y="458.2" width="1" height="15.9"/><rect x="396" y="459.4" width="1" height="6.8"/><rect x="397" y="459.4" width="1" height="7.7"/><rect x="398" y="460.4" width="1" height="4.1"/><rect x="399" y="457.6" width="1" height="7"/><rect x="400" y="456.4" width="1" height="4.9"/><rect x="401" y="456.4" width="1" height="8.2"/><rect x="402" y="457" width="1" height="7.6"/><rect x="403" y="455.7" width="1" height="3.8"/><rect x="404" y="455.7" width="1" height="9.6"/><rect x="405" y="462.7" width="1" height="9.5"/><rect x="406" y="457.6" width="1" height="14.7"/><rect x="407" y="447.9" width="1" height="19.8"/><rect x="408" y="448.6" width="1" height="19.1"/><rect x="409" y="458.6" width="1" height="27.8"/><rect x="410" y="469.9" width="1" height="16.4"/><rect x="411" y="462.1" width="1" height="24.3"/><rect x="412" y="461.4" width="1" height="16.6"/><rect x="413" y="453.2" width="1" height="13.4"/><rect x="414" y="454.8" width="1" height="11.7"/><rect x="415" y="454.8" width="1" height="12.3"/><rect x="416" y="461.2" width="1" height="5.9"/><rect x="417" y="457.5" width="1" height="6.4"/><rect x="418" y="456.9" width="1" height="3.1"/><rect x="419" y="456.9" width="1" height="7"/><rect x="420" y="456.9" width="1" height="7"/><rect x="421" y="455.7" width="1" height="4.5"/><rect x="422" y="456.2" width="1" height="5.1"/><rect x="423" y="456.5" width="1" height="4.9"/><rect x="424" y="456.5" width="1" height="4.9"/><rect x="425" y="458.8" width="1" height="10.9"/><rect x="426" y="464.8" width="1" height="27.3"/><rect x="427" y="474.2" width="1" height="21.1"/><rect x="428" y="474.2" width="1" height="12.9"/><rect x="429" y="469.8" width="1" height="10"/><rect x="430" y="469.8" width="1" height="16.6"/><rect x="431" y="478.9" width="1" height="3.5"/><rect x="432" y="465.9" width="1" height="16.6"/><rect x="433" y="465.9" width="1" height="16.6"/><rect x="434" y="466.6" width="1" height="7.6"/><rect x="435" y="459.4" width="1" height="11.1"/><rect x="436" y="407.9" width="1" height="6.9"/><rect x="437" y="409.9" width="1" height="4.8"/><rect x="438" y="406.6" width="1" height="5.9"/><rect x="439" y="408.2" width="1" height="4.1"/><rect x="440" y="408.2" width="1" height="4.1"/><rect x="441" y="408.2" width="1" height="5.8"/><rect x="442" y="408.3" width="1" height="5.6"/><rect x="443" y="406.6" width="1" height="9"/><rect x="444" y="401.8" width="1" height="7.3"/><rect x="445" y="401.8" width="1" height="16.2"/><rect x="446" y="401.8" width="1" height="16.2"/><rect x="447" y="410" width="1" height="8.7"/><rect x="448" y="406.6" width="1" height="14.6"/><rect x="449" y="406.6" width="1" height="7.8"/><rect x="450" y="398.6" width="1" height="21"/><rect x="451" y="386" width="1" height="18.4"/><rect x="452" y="385.9" width="1" height="2.6"/><rect x="453" y="361.9" width="1" height="26.6"/><rect x="454" y="364.2" width="1" height="13.9"/><rect x="455" y="361.9" width="1" height="14.7"/><rect x="456" y="371.4" width="1" height="6.7"/><rect x="457" y="367.4" width="1" height="8.2"/><rect x="458" y="367.4" width="1" height="8.2"/><rect x="459" y="370.6" width="1" height="3.1"/><rect x="460" y="370.6" width="1" height="2.5"/><rect x="461" y="370.6" width="1" height="8.3"/><rect x="462" y="371.4" width="1" height="5.1"/><rect x="463" y="371.4" width="1" height="6.7"/><rect x="464" y="371.4" width="1" height="6.7"/><rect x="465" y="371.4" width="1" height="6.7"/><rect x="466" y="369.9" width="1" height="10.6"/><rect x="467" y="369.9" width="1" height="10.6"/><rect x="468" y="371.4" width="1" height="6.7"/><rect x="469" y="363.4" width="1" height="14.6"/><rect x="470" y="363.7" width="1" height="14.3"/><rect x="471" y="368.4" width="1" height="8.1"/><rect x="472" y="365.1" width="1" height="8.7"/><rect x="473" y="362.7" width="1" height="12.2"/><rect x="474" y="361.1" width="1" height="13.8"/><rect x="475" y="361.1" width="1" height="10.1"/><rect x="476" y="361.1" width="1" height="5.9"/><rect x="477" y="357.1" width="1" height="6.5"/><rect x="478" y="357.1" width="1" height="6.7"/><rect x="479" y="359.4" width="1" height="3.6"/><rect x="480" y="359.4" width="1" height="5.1"/><rect x="481" y="361.2" width="1" height="3.4"/><rect x="482" y="359.4" width="1" height="5.1"/><rect x="483" y="362.1" width="1" height="2.5"/><rect x="484" y="359.9" width="1" height="4.7"/><rect x="485" y="357.1" width="1" height="5.9"/><rect x="486" y="358.4" width="1" height="4.5"/><rect x="487" y="358.4" width="1" height="4.4"/><rect x="488" y="359.6" width="1" height="3.4"/><rect x="489" y="357.6" width="1" height="4.6"/><rect x="490" y="357.6" width="1" height="5.4"/><rect x="491" y="360.4" width="1" height="4"/><rect x="492" y="361.3" width="1" height="3.7"/><rect x="493" y="360" width="1" height="5"/><rect x="494" y="359.7" width="1" height="5.4"/><rect x="495" y="359.7" width="1" height="4.1"/><rect x="496" y="356.4" width="1" height="6.5"/><rect x="497" y="355.6" width="1" height="6"/><rect x="498" y="357.9" width="1" height="2.9"/><rect x="499" y="349.2" width="1" height="11.6"/><rect x="500" y="349.2" width="1" height="3.3"/><rect x="501" y="340.2" width="1" height="12.3"/><rect x="502" y="340.8" width="1" height="7.5"/><rect x="503" y="345.8" width="1" height="4.6"/><rect x="504" y="344.1" width="1" height="6"/><rect x="505" y="343.1" width="1" height="3.6"/><rect x="506" y="343.1" width="1" height="10.2"/><rect x="507" y="350.8" width="1" height="15"/><rect x="508" y="351.4" width="1" height="14.4"/><rect x="509" y="363.2" width="1" height="29.4"/><rect x="510" y="365.9" width="1" height="25.3"/><rect x="511" y="371.5" width="1" height="16.3"/><rect x="512" y="372.1" width="1" height="9.5"/><rect x="513" y="374.3" width="1" height="7.4"/><rect x="514" y="374.3" width="1" height="6"/><rect x="515" y="376.9" width="1" height="3.3"/><rect x="516" y="372.9" width="1" height="6.6"/><rect x="517" y="373.2" width="1" height="4.7"/><rect x="518" y="372.2" width="1" height="6.7"/><rect x="519" y="372.2" width="1" height="6.7"/><rect x="520" y="370.1" width="1" height="6"/><rect x="521" y="370.1" width="1" height="6"/><rect x="522" y="372.9" width="1" height="18.5"/><rect x="523" y="372.9" width="1" height="13"/><rect x="524" y="379.1" width="1" height="8.8"/><rect x="525" y="379.1" width="1" height="8.8"/><rect x="526" y="374.9" width="1" height="6.7"/><rect x="527" y="377.4" width="1" height="20.8"/><rect x="528" y="374.2" width="1" height="17.2"/><rect x="529" y="378.1" width="1" height="13.2"/><rect x="530" y="376.9" width="1" height="4.7"/><rect x="531" y="376.9" width="1" height="13"/><rect x="532" y="376.9" width="1" height="12.1"/><rect x="533" y="379.1" width="1" height="10"/><rect x="534" y="379.6" width="1" height="2.9"/><rect x="535" y="379.8" width="1" height="4"/><rect x="536" y="381.2" width="1" height="2.5"/><rect x="537" y="381.2" width="1" height="15.6"/><rect x="538" y="381.2" width="1" height="13.2"/><rect x="539" y="381.2" width="1" height="11.5"/><rect x="540" y="382.3" width="1" height="10.6"/><rect x="541" y="382.3" width="1" height="4.7"/><rect x="542" y="374.6" width="1" height="12.4"/><rect x="543" y="373.9" width="1" height="7.8"/><rect x="544" y="376.5" width="1" height="5.2"/><rect x="545" y="376.5" width="1" height="14.5"/><rect x="546" y="382.8" width="1" height="5.4"/><rect x="547" y="372.2" width="1" height="13"/><rect x="548" y="367.3" width="1" height="15.5"/><rect x="549" y="367.3" width="1" height="15"/><rect x="550" y="368.7" width="1" height="13.7"/><rect x="551" y="379.8" width="1" height="14.8"/><rect x="552" y="377.4" width="1" height="17.2"/><rect x="553" y="392.1" width="1" height="5.4"/><rect x="554" y="395.1" width="1" height="9.5"/><rect x="555" y="397.9" width="1" height="3.8"/><rect x="556" y="394.4" width="1" height="7.2"/><rect x="557" y="394.4" width="1" height="3.9"/><rect x="558" y="391.4" width="1" height="5.6"/><rect x="559" y="390.4" width="1" height="3.5"/><rect x="560" y="390.4" width="1" height="6"/><rect x="561" y="390.4" width="1" height="6"/><rect x="562" y="390.4" width="1" height="14.2"/><rect x="563" y="397" width="1" height="7.6"/><rect x="564" y="388.1" width="1" height="11.4"/><rect x="565" y="388.1" width="1" height="8.9"/><rect x="566" y="388.1" width="1" height="8.9"/><rect x="567" y="384.6" width="1" height="14.8"/><rect x="568" y="385.3" width="1" height="14"/><rect x="569" y="381.6" width="1" height="6.3"/><rect x="570" y="381.6" width="1" height="18"/><rect x="571" y="387.4" width="1" height="16"/><rect x="572" y="379.3" width="1" height="12.3"/><rect x="573" y="379.3" width="1" height="7.1"/><rect x="574" y="383.1" width="1" height="3.3"/><rect x="575" y="381.7" width="1" height="4.7"/><rect x="576" y="379.9" width="1" height="5.7"/><rect x="577" y="377.2" width="1" height="5.8"/><rect x="578" y="376.4" width="1" height="6"/><rect x="579" y="378.2" width="1" height="4.2"/><rect x="580" y="376.4" width="1" height="6"/><rect x="581" y="372.8" width="1" height="6.6"/><rect x="582" y="372.8" width="1" height="4.7"/><rect x="583" y="370.7" width="1" height="4.5"/><rect x="584" y="368.7" width="1" height="6.6"/><rect x="585" y="372.8" width="1" height="2.5"/><rect x="586" y="372.8" width="1" height="16"/><rect x="587" y="384.6" width="1" height="7.8"/><rect x="588" y="384.6" width="1" height="14.8"/><rect x="589" y="390.7" width="1" height="8.7"/><rect x="590" y="377.4" width="1" height="17.2"/><rect x="591" y="377.4" width="1" height="5.6"/><rect x="592" y="372.6" width="1" height="15.5"/><rect x="593" y="372.6" width="1" height="16.9"/><rect x="594" y="380.8" width="1" height="4.3"/><rect x="595" y="380.8" width="1" height="10.3"/><rect x="596" y="386.2" width="1" height="14.1"/><rect x="597" y="386.2" width="1" height="14.1"/><rect x="598" y="394.3" width="1" height="5.9"/><rect x="599" y="391" width="1" height="5.8"/><rect x="600" y="387.7" width="1" height="8"/><rect x="601" y="382.5" width="1" height="7.9"/><rect x="602" y="381.6" width="1" height="3.4"/><rect x="603" y="381.6" width="1" height="2.5"/><rect x="604" y="379.2" width="1" height="4.8"/><rect x="605" y="379.2" width="1" height="7.2"/><rect x="606" y="379.2" width="1" height="7.2"/><rect x="607" y="379.2" width="1" height="7.2"/><rect x="608" y="366.2" width="1" height="20.3"/><rect x="609" y="371.2" width="1" height="15.3"/><rect x="610" y="374.9" width="1" height="14.6"/><rect x="611" y="376.6" width="1" height="11.8"/><rect x="612" y="385.3" width="1" height="4.3"/><rect x="613" y="370.8" width="1" height="17.3"/><rect x="614" y="368.7" width="1" height="5.4"/><rect x="615" y="368.7" width="1" height="6.3"/><rect x="616" y="368.4" width="1" height="4.8"/><rect x="617" y="364.7" width="1" height="8"/><rect x="618" y="364.7" width="1" height="8"/><rect x="619" y="364.7" width="1" height="3.4"/><rect x="620" y="359.2" width="1" height="8.8"/><rect x="621" y="359.2" width="1" height="8.8"/><rect x="622" y="362.8" width="1" height="5.3"/><rect x="623" y="360.1" width="1" height="5.2"/><rect x="624" y="356.9" width="1" height="5.6"/><rect x="625" y="356.9" width="1" height="4.5"/><rect x="626" y="358.9" width="1" height="3"/><rect x="627" y="357" width="1" height="5"/><rect x="628" y="352.4" width="1" height="22.6"/><rect x="629" y="352.4" width="1" height="17.3"/><rect x="630" y="367.1" width="1" height="17"/><rect x="631" y="367.8" width="1" height="16.4"/><rect x="632" y="379.9" width="1" height="16.5"/><rect x="633" y="379.9" width="1" height="25"/><rect x="634" y="379.9" width="1" height="8.4"/><rect x="635" y="379.9" width="1" height="11.9"/><rect x="636" y="385.5" width="1" height="6.4"/><rect x="637" y="380.5" width="1" height="7.5"/><rect x="638" y="380.5" width="1" height="5.9"/><rect x="639" y="379.9" width="1" height="6.5"/><rect x="640" y="379.9" width="1" height="5"/><rect x="641" y="382.4" width="1" height="2.5"/><rect x="642" y="377.7" width="1" height="7.3"/><rect x="643" y="377.7" width="1" height="7.3"/><rect x="644" y="382.4" width="1" height="13.2"/><rect x="645" y="380.8" width="1" height="14.9"/><rect x="646" y="380.8" width="1" height="8.9"/><rect x="647" y="379.9" width="1" height="3.4"/><rect x="648" y="379.9" width="1" height="16.7"/><rect x="649" y="382.7" width="1" height="13.9"/><rect x="650" y="382.7" width="1" height="26.9"/><rect x="651" y="387.7" width="1" height="4.5"/><rect x="652" y="379.9" width="1" height="12.4"/><rect x="653" y="379.9" width="1" height="18.5"/><rect x="654" y="382.7" width="1" height="13"/><rect x="655" y="382.7" width="1" height="10.2"/><rect x="656" y="382.7" width="1" height="10.2"/><rect x="657" y="386.7" width="1" height="3.1"/><rect x="658" y="387.2" width="1" height="8.8"/><rect x="659" y="392.9" width="1" height="4.5"/><rect x="660" y="392.6" width="1" height="4.9"/><rect x="661" y="392.6" width="1" height="3.1"/><rect x="662" y="388.6" width="1" height="7.1"/><rect x="663" y="388.2" width="1" height="7.5"/><rect x="664" y="391.9" width="1" height="6.9"/><rect x="665" y="391.9" width="1" height="14"/><rect x="666" y="399.9" width="1" height="6"/><rect x="667" y="393.8" width="1" height="16.7"/><rect x="668" y="393.8" width="1" height="16.7"/><rect x="669" y="381.3" width="1" height="15"/><rect x="670" y="378.9" width="1" height="4.8"/><rect x="671" y="378.9" width="1" height="16.7"/><rect x="672" y="364.1" width="1" height="18.6"/><rect x="673" y="364.1" width="1" height="18.6"/><rect x="674" y="354.9" width="1" height="13"/><rect x="675" y="354.9" width="1" height="13"/><rect x="676" y="356.7" width="1" height="7.5"/><rect x="677" y="356.7" width="1" height="7.5"/><rect x="678" y="356.7" width="1" height="5.4"/><rect x="679" y="359.4" width="1" height="4.7"/><rect x="680" y="358.6" width="1" height="5.6"/><rect x="681" y="358.6" width="1" height="3.5"/><rect x="682" y="358.6" width="1" height="3.8"/><rect x="683" y="358.6" width="1" height="2.5"/><rect x="684" y="358.6" width="1" height="3.7"/><rect x="685" y="356.4" width="1" height="5.9"/><rect x="686" y="354.9" width="1" height="4"/><rect x="687" y="354.9" width="1" height="6.4"/><rect x="688" y="352.1" width="1" height="12.1"/><rect x="689" y="352.1" width="1" height="12.1"/><rect x="690" y="344.8" width="1" height="9.8"/><rect x="691" y="344.7" width="1" height="2.6"/><rect x="692" y="334.4" width="1" height="13"/><rect x="693" y="334.4" width="1" height="13"/><rect x="694" y="337.2" width="1" height="6.5"/><rect x="695" y="337.2" width="1" height="2.5"/><rect x="696" y="337.2" width="1" height="5.1"/><rect x="697" y="337.2" width="1" height="4.8"/><rect x="698" y="338.6" width="1" height="3.5"/><rect x="699" y="338.6" width="1" height="4.9"/><rect x="700" y="339.1" width="1" height="4.4"/><rect x="701" y="335.1" width="1" height="7.2"/><rect x="702" y="335.1" width="1" height="7.2"/><rect x="703" y="334.6" width="1" height="5.2"/><rect x="704" y="333.9" width="1" height="3.3"/><rect x="705" y="333.9" width="1" height="4.3"/><rect x="706" y="333.9" width="1" height="4.3"/><rect x="707" y="335.6" width="1" height="10.1"/><rect x="708" y="341.7" width="1" height="3.5"/><rect x="709" y="338.6" width="1" height="6"/><rect x="710" y="342.1" width="1" height="2.5"/><rect x="711" y="340.5" width="1" height="4"/><rect x="712" y="335.7" width="1" height="7.4"/><rect x="713" y="335.7" width="1" height="2.5"/><rect x="714" y="335.7" width="1" height="6.6"/><rect x="715" y="336.4" width="1" height="4.6"/><rect x="716" y="332.8" width="1" height="6.6"/><rect x="717" y="332.8" width="1" height="4.4"/><rect x="718" y="334.7" width="1" height="7.6"/><rect x="719" y="335.1" width="1" height="7.2"/><rect x="720" y="338" width="1" height="4.2"/><rect x="721" y="338" width="1" height="7.7"/><rect x="722" y="336.2" width="1" height="7.3"/><rect x="723" y="341.1" width="1" height="4.7"/><rect x="724" y="327.4" width="1" height="18.3"/><rect x="725" y="321.1" width="1" height="8.9"/><rect x="726" y="321.1" width="1" height="10"/><rect x="727" y="313.1" width="1" height="10.9"/><rect x="728" y="313.1" width="1" height="5.9"/><rect x="729" y="313.4" width="1" height="6.8"/><rect x="730" y="313.4" width="1" height="10.7"/><rect x="731" y="318.1" width="1" height="4"/><rect x="732" y="318.1" width="1" height="2.5"/><rect x="733" y="318.1" width="1" height="7.2"/><rect x="734" y="319.5" width="1" height="4"/><rect x="735" y="319.5" width="1" height="3.9"/><rect x="736" y="319.2" width="1" height="4.2"/><rect x="737" y="318.7" width="1" height="5.3"/><rect x="738" y="319.8" width="1" height="5.5"/><rect x="739" y="315.2" width="1" height="7.1"/><rect x="740" y="315.2" width="1" height="4.8"/><rect x="741" y="315.2" width="1" height="3.9"/><rect x="742" y="311.1" width="1" height="6.6"/><rect x="743" y="311.1" width="1" height="7.2"/><rect x="744" y="302.2" width="1" height="11.3"/><rect x="745" y="305.4" width="1" height="8.8"/><rect x="746" y="309.3" width="1" height="10.6"/><rect x="747" y="309.2" width="1" height="7.9"/><rect x="748" y="309.2" width="1" height="11.9"/><rect x="749" y="311.4" width="1" height="9.7"/><rect x="750" y="307.4" width="1" height="6.5"/><rect x="751" y="307.4" width="1" height="6"/><rect x="752" y="304.9" width="1" height="5.5"/><rect x="753" y="300.9" width="1" height="6.5"/><rect x="754" y="301.6" width="1" height="6.6"/><rect x="755" y="301.6" width="1" height="6.6"/><rect x="756" y="303.2" width="1" height="2.7"/><rect x="757" y="299.2" width="1" height="6.6"/><rect x="758" y="302.7" width="1" height="4.2"/><rect x="759" y="300.9" width="1" height="6"/><rect x="760" y="299.2" width="1" height="5.5"/><rect x="761" y="299.2" width="1" height="5.5"/><rect x="762" y="300.4" width="1" height="7.8"/><rect x="763" y="300.4" width="1" height="7.8"/><rect x="764" y="298.1" width="1" height="13"/><rect x="765" y="298.1" width="1" height="13"/><rect x="766" y="299.1" width="1" height="9"/><rect x="767" y="298.7" width="1" height="9.5"/><rect x="768" y="296.5" width="1" height="15.8"/><rect x="769" y="296.5" width="1" height="12.6"/><rect x="770" y="306.6" width="1" height="2.7"/><rect x="771" y="305.6" width="1" height="3.7"/><rect x="772" y="303.4" width="1" height="4.8"/><rect x="773" y="303.4" width="1" height="4.8"/><rect x="774" y="303.4" width="1" height="4.5"/><rect x="775" y="303.9" width="1" height="4.3"/><rect x="776" y="303.9" width="1" height="4.1"/><rect x="777" y="305.4" width="1" height="2.7"/><rect x="778" y="302.8" width="1" height="5.4"/><rect x="779" y="304.4" width="1" height="5"/><rect x="780" y="299.2" width="1" height="7.7"/><rect x="781" y="299.2" width="1" height="4.3"/><rect x="782" y="295.7" width="1" height="7.8"/><rect x="783" y="295.7" width="1" height="6.6"/><rect x="784" y="296.6" width="1" height="5.6"/><rect x="785" y="292.9" width="1" height="6.2"/><rect x="786" y="292.2" width="1" height="4.3"/><rect x="787" y="279.9" width="1" height="16"/><rect x="788" y="275.2" width="1" height="8.4"/><rect x="789" y="272.9" width="1" height="6.6"/></g>
<rect x="0" y="804.6" width="939" height="2.2" fill="#111"/>
<rect x="0" y="806.8" width="939" height="3" fill="#262626"/>
<rect x="0" y="809.8" width="939" height="1.1" fill="#6a6a6a"/>
<rect x="0" y="810.9" width="939" height="26.8" fill="#0c0c0c"/>
<rect x="0" y="837.7" width="939" height="1.3" fill="#555"/>
<line x1="938.5" y1="810" x2="938.5" y2="838" stroke="#666" stroke-width="1"/>
<line x1="65.8" y1="811" x2="65.8" y2="838" stroke="#555" stroke-width="1"/>
<line x1="119.5" y1="811" x2="119.5" y2="838" stroke="#555" stroke-width="1"/>
<text x="-0.8" y="830.2" class="ax" style="fill:#e4e4e4;letter-spacing:0.35px">Volume</text>
<text x="70.9" y="830.2" class="ax" style="fill:#9a9a9a">9,920</text>
<text x="942.6" y="85.7" class="ax">5935.23</text>
<text x="942.6" y="164.4" class="ax">5829.42</text>
<text x="942.6" y="243.1" class="ax">5725.49</text>
<text x="942.6" y="321.9" class="ax">5623.41</text>
<text x="942.6" y="400.6" class="ax">5523.16</text>
<text x="942.6" y="479.4" class="ax">5424.69</text>
<text x="942.6" y="558.1" class="ax">5327.98</text>
<text x="942.6" y="636.9" class="ax">5232.99</text>
<text x="942.6" y="715.6" class="ax">5139.7</text>
<text x="942.6" y="794.3" class="ax">5048.07</text>
<rect x="942.7" y="-6" width="71" height="22.8" rx="4" fill="#888"/>
<rect x="942.7" y="-6" width="71" height="21.8" rx="4" fill="#a2a2a2"/>
<text x="947" y="11.2" class="ax" style="fill:#111">6040.37</text>
<rect x="942.8" y="263.7" width="61.4" height="20.5" rx="4.5" fill="#000" stroke="#5a5a5a" stroke-width="1"/>
<text x="947" y="280" class="ax" style="fill:#fff">5673.5</text>
<text x="943" y="855.8" class="ax">750</text>
<text x="943" y="897.9" class="ax">250</text>
<text transform="translate(1022.5,909) rotate(-90)" class="ax" style="font-size:16.9px;letter-spacing:0.4px">&lt;thous...</text>
<text x="50" y="931.3" class="ax">20</text>
<text x="135.8" y="931.3" class="ax">5<tspan dx="0.8">/</tspan><tspan dx="0.8">27</tspan></text>
<text x="233.3" y="931.3" class="ax">6<tspan dx="0.8">/</tspan><tspan dx="0.8">3</tspan></text>
<text x="333.9" y="931.3" class="ax">6<tspan dx="0.8">/</tspan><tspan dx="0.8">10</tspan></text>
<text x="436" y="931.3" class="ax">6<tspan dx="0.8">/</tspan><tspan dx="0.8">17</tspan></text>
<text x="533.5" y="931.3" class="ax">6<tspan dx="0.8">/</tspan><tspan dx="0.8">24</tspan></text>
<text x="635.5" y="931.3" class="ax">7<tspan dx="0.8">/</tspan><tspan dx="0.8">1</tspan></text>
<text x="731" y="931.3" class="ax">7<tspan dx="0.8">/</tspan><tspan dx="0.8">8</tspan></text>
<text x="831.2" y="931.3" class="ax">7<tspan dx="0.8">/</tspan><tspan dx="0.8">15</tspan></text>
<text x="935.8" y="931.3" class="ax">7<tspan dx="0.8">/</tspan><tspan dx="0.8">22</tspan></text>
<rect x="0.7" y="912.3" width="47.9" height="22.6" rx="4" fill="#888"/>
<rect x="0.7" y="912.3" width="47.9" height="21.6" rx="4" fill="#a2a2a2"/>
<text x="4.4" y="930.1" class="ax" style="fill:#111">22:00</text>
<path d="M787.3 236.5 H882 Q887 236.5 887 241.5 V258.9 Q887 263.9 882 263.9 H799.6 L789.1 273.1 L794.4 263.9 H787.3 Q782.3 263.9 782.3 258.9 V241.5 Q782.3 236.5 787.3 236.5 Z" fill="#dcdcdc" stroke="#a8a8a8" stroke-width="1"/>
<text x="790.9" y="258.8" class="ax" style="fill:#262626;font-size:17px">Hi: 5675.75</text>
<path d="M909.2 26.9 L920.1 38.1 L898.2 38.1 Z" fill="#000"/>
<path d="M906.4 74.3 L917.7 85.5 L895.6 85.5 Z" fill="#000"/>
<path d="M905.3 120.4 L916.8 131.7 L894.2 131.7 Z" fill="#000"/>
<path d="M841.2 89.4 L852.6 100.8 L830.4 100.8 Z" fill="#000"/>
<path d="M838.8 167.5 L850.1 178.8 L827.7 178.8 Z" fill="#000"/>
<path d="M832.3 277.5 L843.2 288.8 L821.8 288.8 Z" fill="#000"/>
<text transform="translate(84.7,467.9) scale(1,1.07)" class="an" style="font-size:17.8px">5/23/2024</text>
<text transform="translate(84.7,489.9) scale(1,1.07)" class="an" style="font-size:17.8px">5368.25</text>
<text transform="translate(205.1,692.9) scale(1,1.07)" class="an" style="font-size:17.8px">5/31</text>
<text transform="translate(205.1,715.2) scale(1,1.07)" class="an" style="font-size:17.8px">5205.50</text>
<text transform="translate(350.1,585.4) scale(1,1.07)" class="an" style="font-size:17.8px">6/11</text>
<text transform="translate(350.1,606.7) scale(1,1.07)" class="an" style="font-size:17.8px">5334.50</text>
<text transform="translate(410.8,533.2) scale(1,1.07)" class="an" style="font-size:17.8px">6/14</text>
<text transform="translate(410.8,554.5) scale(1,1.07)" class="an" style="font-size:17.8px">5397.75</text>
<text transform="translate(478.8,293.2) scale(1,1.07)" class="an" style="font-size:17.8px">6/20</text>
<text transform="translate(478.8,315.1) scale(1,1.07)" class="an" style="font-size:17.8px">5588</text>
<text transform="translate(651.2,448) scale(1,1.07)" class="an" style="font-size:17.8px">7/2</text>
<text transform="translate(651.2,469.5) scale(1,1.07)" class="an" style="font-size:17.8px">5502.75</text>
<text transform="translate(89.4,507.5) scale(1,1.03)" class="an b" style="font-size:20.13px;stroke-width:0.48px">3<tspan dy="0.91" class="br">{</tspan><tspan dy="-0.91">-6</tspan><tspan dy="0.91" class="br">}</tspan></text>
<text transform="translate(215.7,554.5) scale(1,1.03)" class="an b" style="font-size:17.67px;stroke-width:0.42px">1<tspan dy="0.80" class="br">{</tspan><tspan dy="-0.80">-7</tspan><tspan dy="0.80" class="br">}</tspan></text>
<text transform="translate(237.5,640.6) scale(1,1.03)" class="an b" style="font-size:18.56px;stroke-width:0.45px">2<tspan dy="0.84" class="br">{</tspan><tspan dy="-0.84">-7</tspan><tspan dy="0.84" class="br">}</tspan></text>
<text transform="translate(205.9,664.5) scale(1,1.03)" class="an b" style="font-size:19.88px;stroke-width:0.48px">4<tspan dy="0.89" class="br">{</tspan><tspan dy="-0.89">-6</tspan><tspan dy="0.89" class="br">}</tspan></text>
<text transform="translate(313.1,496.3) scale(1,1.03)" class="an b" style="font-size:18.41px;stroke-width:0.44px">3<tspan dy="0.83" class="br">{</tspan><tspan dy="-0.83">-7</tspan><tspan dy="0.83" class="br">}</tspan></text>
<text transform="translate(351.5,565.3) scale(1,1.03)" class="an b" style="font-size:18.31px;stroke-width:0.44px">4<tspan dy="0.82" class="br">{</tspan><tspan dy="-0.82">-7</tspan><tspan dy="0.82" class="br">}</tspan></text>
<text transform="translate(368.7,438.5) scale(1,1.03)" class="an b" style="font-size:18.16px;stroke-width:0.44px">1<tspan dy="0.82" class="br">{</tspan><tspan dy="-0.82">-8</tspan><tspan dy="0.82" class="br">}</tspan></text>
<text transform="translate(407.6,512.8) scale(1,1.03)" class="an b" style="font-size:18.56px;stroke-width:0.45px">2<tspan dy="0.84" class="br">{</tspan><tspan dy="-0.84">-8</tspan><tspan dy="0.84" class="br">}</tspan></text>
<text transform="translate(479.3,332.6) scale(1,1.03)" class="an b" style="font-size:18.31px;stroke-width:0.44px">3<tspan dy="0.82" class="br">{</tspan><tspan dy="-0.82">-8</tspan><tspan dy="0.82" class="br">}</tspan></text>
<text transform="translate(652.4,346.5) scale(1,1.03)" class="an b" style="font-size:15.32px;stroke-width:0.37px">1<tspan dy="0.69" class="br">{</tspan><tspan dy="-0.69">-9</tspan><tspan dy="0.69" class="br">}</tspan></text>
<text transform="translate(680.4,380.8) scale(1,1.03)" class="an b" style="font-size:15.27px;stroke-width:0.37px">2<tspan dy="0.69" class="br">{</tspan><tspan dy="-0.69">-9</tspan><tspan dy="0.69" class="br">}</tspan></text>
<text transform="translate(649.5,423.2) scale(1,1.03)" class="an b" style="font-size:18.31px;stroke-width:0.44px">4<tspan dy="0.82" class="br">{</tspan><tspan dy="-0.82">-8</tspan><tspan dy="0.82" class="br">}</tspan></text>
<text transform="translate(821.1,121.5) scale(1,1.03)" class="an b" style="font-size:19.98px;stroke-width:0.48px">5<tspan dy="0.90" class="br">{</tspan><tspan dy="-0.90">-6</tspan><tspan dy="0.90" class="br">}</tspan></text>
<text transform="translate(821.1,147) scale(1,1.03)" class="an b" style="font-size:19.88px;stroke-width:0.48px">5<tspan dy="0.89" class="br">{</tspan><tspan dy="-0.89">-7</tspan><tspan dy="0.89" class="br">}</tspan></text>
<text transform="translate(819.6,196.8) scale(1,1.03)" class="an b" style="font-size:18.36px;stroke-width:0.44px">5<tspan dy="0.83" class="br">{</tspan><tspan dy="-0.83">-8</tspan><tspan dy="0.83" class="br">}</tspan></text>
<text transform="translate(815.6,302.9) scale(1,1.03)" class="an b" style="font-size:15.66px;stroke-width:0.38px">3<tspan dy="0.70" class="br">{</tspan><tspan dy="-0.70">-9</tspan><tspan dy="0.70" class="br">}</tspan></text>
<text transform="translate(886.5,62.4) scale(1,1.03)" class="an b" style="font-size:24.66px;stroke-width:0.59px">5<tspan dy="1.11" class="br">{</tspan><tspan dy="-1.11">0</tspan><tspan dy="1.11" class="br">}</tspan></text>
<text transform="translate(882.6,107.3) scale(1,1.03)" class="an b" style="font-size:22.83px;stroke-width:0.55px">5<tspan dy="1.03" class="br">{</tspan><tspan dy="-1.03">-1</tspan><tspan dy="1.03" class="br">}</tspan></text>
<text transform="translate(884.6,151) scale(1,1.03)" class="an b" style="font-size:20.13px;stroke-width:0.48px">3<tspan dy="0.91" class="br">{</tspan><tspan dy="-0.91">-2</tspan><tspan dy="0.91" class="br">}</tspan></text>
<text transform="translate(884.8,176.6) scale(1,1.03)" class="an b" style="font-size:20.13px;stroke-width:0.48px">3<tspan dy="0.91" class="br">{</tspan><tspan dy="-0.91">-3</tspan><tspan dy="0.91" class="br">}</tspan></text>
<text transform="translate(884.8,201.8) scale(1,1.03)" class="an b" style="font-size:20.13px;stroke-width:0.48px">3<tspan dy="0.91" class="br">{</tspan><tspan dy="-0.91">-4</tspan><tspan dy="0.91" class="br">}</tspan></text>
<text transform="translate(884.8,227.8) scale(1,1.03)" class="an b" style="font-size:20.13px;stroke-width:0.48px">5<tspan dy="0.91" class="br">{</tspan><tspan dy="-0.91">-5</tspan><tspan dy="0.91" class="br">}</tspan></text>
</svg></body></html>
